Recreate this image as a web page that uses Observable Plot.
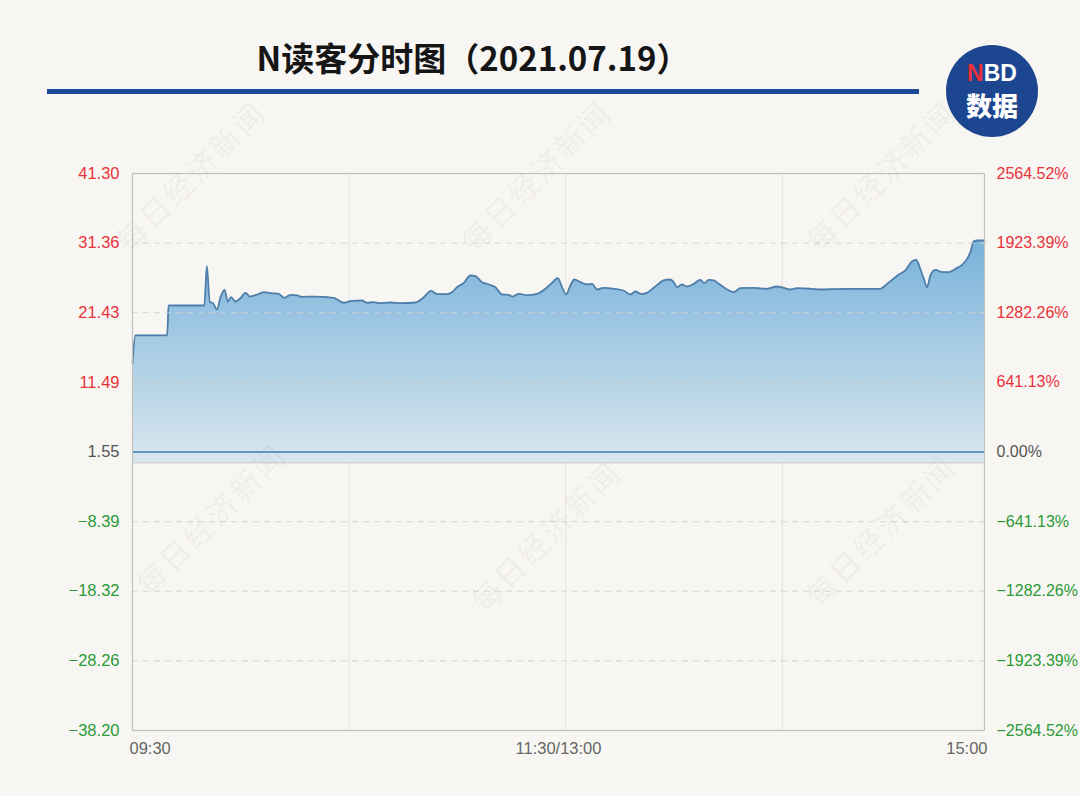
<!DOCTYPE html>
<html>
<head>
<meta charset="utf-8">
<script src="https://cdn.jsdelivr.net/npm/d3@7"></script>
<script src="https://cdn.jsdelivr.net/npm/@observablehq/plot@0.6"></script>
<style>
  html, body { margin: 0; padding: 0; background: #f8f6f2; }
  #wrap { position: relative; width: 1080px; height: 796px; overflow: hidden; background: #f8f6f2; }
  #title { position: absolute; left: 0; width: 946px; top: 34px; text-align: center;
    font-family: "Noto Sans CJK SC", "Noto Sans", sans-serif; font-weight: 700; font-size: 33px; color: #151515; line-height: 46px; }
  #rule { position: absolute; left: 47px; width: 872px; top: 89px; height: 5px; background: #1e4a97; }
  #logo { position: absolute; left: 946px; top: 45px; width: 92px; height: 92px; border-radius: 50%; background: #1c4690; }
  #logo .nbd { position: absolute; left: 0; width: 92px; top: 17px; text-align: center; font-family: "Liberation Sans", Arial, sans-serif; font-weight: 700; font-size: 23px; line-height: 23px; color: #fff; white-space: nowrap; }
  #logo .nbd span { color: #e8313a; }
  #logo .sj { position: absolute; left: 0; width: 92px; top: 46px; text-align: center; font-family: "Noto Sans CJK SC", sans-serif; font-weight: 900; font-size: 26px; line-height: 28px; color: #fff; }
  .wm { position: absolute; font-family: "Noto Sans CJK SC", serif; font-size: 30px; letter-spacing: 3px; color: rgba(110,110,110,0.08); transform: rotate(-45deg); white-space: nowrap; pointer-events: none; }
  #chart { position: absolute; left: 0; top: 0; }
</style>
</head>
<body>
<div id="wrap">
  <div id="chart"></div>
  <div id="title">N读客分时图（2021.07.19）</div>
  <div id="rule"></div>
  <div id="logo"><div class="nbd"><span>N</span>BD</div><div class="sj">数据</div></div>
</div>
<script>
// ---- data ----
const minutes = [0, 0.8, 9.6, 10.0, 19.9, 20.6, 21.4, 22.2, 23.4, 24.4, 25.5, 26.4, 27.3, 28.5, 29.9, 31.3, 32.5, 34.6, 36.4, 38.2, 40.5, 42.1, 43.8, 45.6, 47.0, 50.2, 55.7, 58.5, 60.8, 63.6, 65.0, 66.8, 68.2, 71.4, 74.2, 78.4, 80.7, 82.7, 84.4, 87.1, 88.5, 89.9, 91.8, 93.6, 95.0, 96.8, 98.7, 100.5, 102.4, 104.2, 105.2, 107.0, 109.3, 112.1, 114.4, 116.2, 117.8, 119.0, 120.1, 121.3, 122.4, 124.1, 125.9, 127.3, 128.7, 130.5, 133.3, 136.0, 137.9, 139.3, 140.9, 142.5, 144.8, 147.1, 149.0, 149.9, 150.8, 152.2, 153.6, 155.5, 157.3, 158.4, 159.6, 161.0, 162.8, 164.7, 166.5, 168.4, 172.0, 175.7, 178.5, 180.4, 182.2, 184.1, 188.0, 190.5, 197.0, 207.1, 208.5, 210.4, 212.2, 214.1, 215.9, 217.1, 218.2, 219.2, 220.1, 221.0, 222.4, 224.3, 226.1, 228.0, 229.8, 231.2, 232.1, 233.0, 234.0, 236.0];
const prices = [14.2, 18.2, 18.2, 22.46, 22.46, 28.07, 22.93, 22.85, 21.89, 23.65, 24.70, 23.03, 23.65, 23.03, 23.5, 24.27, 23.74, 24.03, 24.36, 24.22, 24.13, 23.56, 23.99, 23.89, 23.70, 23.74, 23.56, 22.85, 23.13, 23.17, 22.85, 22.93, 22.79, 22.89, 22.79, 22.89, 23.65, 24.55, 24.08, 24.08, 24.36, 25.07, 25.69, 26.74, 26.64, 25.79, 25.46, 25.07, 24.03, 23.99, 23.74, 24.13, 23.93, 24.13, 24.84, 25.69, 26.36, 25.07, 24.03, 25.31, 26.17, 25.79, 25.46, 25.55, 24.74, 24.98, 24.84, 24.60, 24.03, 24.46, 24.10, 24.27, 25.17, 26.03, 26.17, 25.79, 25.07, 25.46, 25.17, 25.55, 26.12, 25.65, 26.12, 26.03, 25.41, 24.74, 24.36, 24.93, 24.98, 24.84, 25.17, 24.98, 24.74, 24.93, 24.84, 24.74, 24.84, 24.84, 25.31, 26.12, 26.84, 27.46, 28.74, 28.98, 27.70, 26.27, 25.07, 26.74, 27.55, 27.21, 27.21, 27.70, 28.27, 29.12, 30.07, 31.59, 31.74, 31.74];
const prevClose = 1.55;
const priceTicks = [41.30, 31.36, 21.43, 11.49, 1.55, -8.39, -18.32, -28.26, -38.20];
const pctLabels = ["2564.52%", "1923.39%", "1282.26%", "641.13%", "0.00%", "−641.13%", "−1282.26%", "−1923.39%", "−2564.52%"];
const timeLabels = ["09:30", "11:30/13:00", "15:00"];
const timeGrid = [60, 120, 180];
const watermark = "每日经济新闻";

// ---- build ----
const data = minutes.map((m, i) => ({m, p: prices[i]}));
const tickRows = priceTicks.map((v, i) => ({
  v,
  left: (v < 0 ? "−" : "") + Math.abs(v).toFixed(2),
  right: pctLabels[i],
  color: v > prevClose ? "#e8323a" : v < prevClose ? "#2a9a38" : "#555555"
}));
const dashed = priceTicks.filter(v => v !== prevClose && v !== priceTicks[0] && v !== priceTicks[priceTicks.length - 1]);

const gradDefs = () => {
  const ns = "http://www.w3.org/2000/svg";
  const defs = document.createElementNS(ns, "defs");
  const lg = document.createElementNS(ns, "linearGradient");
  lg.setAttribute("id", "areaGrad");
  lg.setAttribute("gradientUnits", "userSpaceOnUse");
  lg.setAttribute("x1", "0"); lg.setAttribute("x2", "0");
  lg.setAttribute("y1", "240"); lg.setAttribute("y2", "463");
  [["0%", "#78b2da"], ["45%", "#a5cae4"], ["100%", "#d9e7ee"]].forEach(([o, c]) => {
    const s = document.createElementNS(ns, "stop");
    s.setAttribute("offset", o); s.setAttribute("stop-color", c);
    lg.appendChild(s);
  });
  defs.appendChild(lg);
  return defs;
};

const font = "'Liberation Sans', Arial, sans-serif";

const chart = Plot.plot({
  width: 1080,
  height: 796,
  marginLeft: 132,
  marginRight: 96,
  marginTop: 173,
  marginBottom: 66,
  style: {background: "transparent", fontFamily: font},
  x: {domain: [0, 236], axis: null},
  y: {domain: [priceTicks[priceTicks.length - 1], priceTicks[0]], axis: null},
  color: {type: "identity"},
  marks: [
    gradDefs,
    Plot.ruleX(timeGrid, {stroke: "#e6e3de", strokeWidth: 1}),
    Plot.areaY(data, {x: "m", y1: 0, y2: "p", fill: "url(#areaGrad)", curve: "monotone-x"}),
    Plot.lineY(data, {x: "m", y: "p", stroke: "#4e7ea9", strokeWidth: 1.8, curve: "monotone-x"}),
    Plot.ruleY(dashed, {stroke: "#cfcfcf", strokeOpacity: 0.85, strokeDasharray: "6,5", strokeWidth: 1}),
    Plot.ruleY([0], {stroke: "#c6c4c0", strokeWidth: 1}),
    Plot.ruleY([prevClose], {stroke: "#3d78b6", strokeWidth: 1.5}),
    Plot.frame({stroke: "#c2c0bc", strokeWidth: 1.2}),
    Plot.text(tickRows, {y: "v", text: "left", fill: "color", frameAnchor: "left", dx: -13, textAnchor: "end", fontSize: 16.5}),
    Plot.text(tickRows, {y: "v", text: "right", fill: "color", frameAnchor: "right", dx: 12, textAnchor: "start", fontSize: 16}),
    Plot.text([timeLabels[0]], {frameAnchor: "bottom-left", dy: 23, dx: -3, textAnchor: "start", fill: "#666", fontSize: 16.5}),
    Plot.text([timeLabels[1]], {frameAnchor: "bottom", dy: 23, textAnchor: "middle", fill: "#666", fontSize: 16.5}),
    Plot.text([timeLabels[2]], {frameAnchor: "bottom-right", dy: 23, dx: 3, textAnchor: "end", fill: "#666", fontSize: 16.5})
  ]
});
document.getElementById("chart").appendChild(chart);

// watermarks
const wrap = document.getElementById("wrap");
[[190, 175], [535, 175], [880, 175], [210, 518], [545, 535], [880, 530]].forEach(([cx, cy]) => {
  const d = document.createElement("div");
  d.className = "wm";
  d.textContent = watermark;
  wrap.appendChild(d);
  const w = d.offsetWidth, h = d.offsetHeight;
  d.style.left = (cx - w / 2) + "px";
  d.style.top = (cy - h / 2) + "px";
});
</script>
</body>
</html>
